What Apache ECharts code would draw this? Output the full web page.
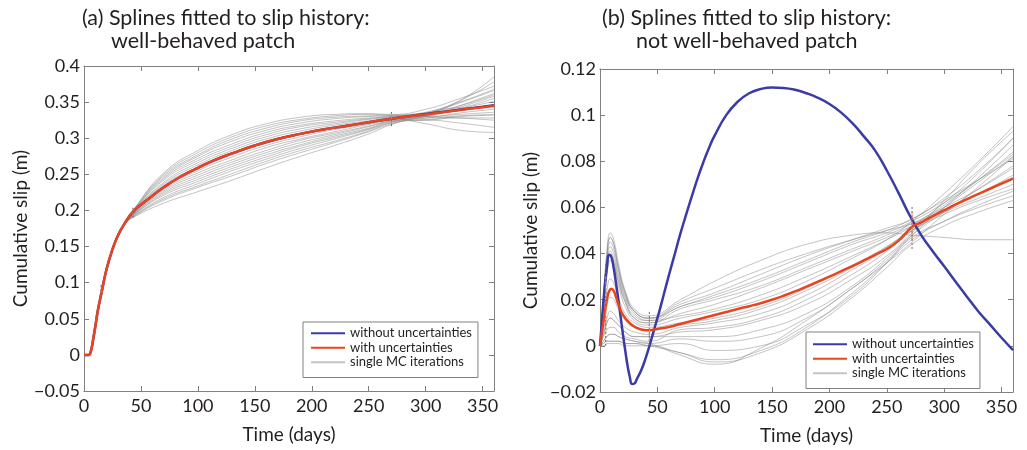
<!DOCTYPE html>
<html>
<head>
<meta charset="utf-8">
<script src="https://cdn.jsdelivr.net/npm/echarts@6/dist/echarts.min.js"></script>
<style>
  html, body { margin: 0; padding: 0; background: #fff; }
  #chart { width: 1027px; height: 450px; }
</style>
</head>
<body>
<div id="chart"></div>
<script>
// ---------------- shared axes ----------------
const xTicks = [0, 50, 100, 150, 200, 250, 300, 350];
const xLimit = 360;
const aYTicks = [-0.05, 0, 0.05, 0.1, 0.15, 0.2, 0.25, 0.3, 0.35, 0.4];
const bYTicks = [-0.02, 0, 0.02, 0.04, 0.06, 0.08, 0.1, 0.12];
const legendNames = ['without uncertainties', 'with uncertainties', 'single MC iterations'];

// ---------------- panel (a): well-behaved patch ----------------
const aFitDays    = [0, 4, 6, 8, 10, 12, 14, 16, 20, 25, 30, 35, 43, 55, 70, 85, 100, 115, 130, 150, 170, 190, 210, 230, 250, 270, 290, 310, 330, 350, 360];
const aWithUnc    = [0, 0, 0.005, 0.021, 0.04, 0.06, 0.076, 0.091, 0.12, 0.146, 0.166, 0.18, 0.198, 0.214, 0.232, 0.247, 0.259, 0.27, 0.279, 0.29, 0.299, 0.306, 0.312, 0.317, 0.322, 0.327, 0.331, 0.335, 0.339, 0.343, 0.345];
const aWithoutUnc = [0, 0, 0.005, 0.021, 0.04, 0.06, 0.076, 0.091, 0.12, 0.146, 0.166, 0.18, 0.198, 0.214, 0.232, 0.247, 0.259, 0.27, 0.279, 0.29, 0.299, 0.306, 0.312, 0.317, 0.322, 0.327, 0.3315, 0.3355, 0.3395, 0.3435, 0.3455];
// Monte-Carlo runs follow the fitted curve up to day 43, then fan out
const aMcDays = [43, 70, 100, 130, 160, 190, 220, 250, 270, 300, 330, 360];
const aMcRuns = [
  [0.200, 0.252, 0.283, 0.305, 0.320, 0.329, 0.333, 0.334, 0.333, 0.340, 0.355, 0.372],
  [0.200, 0.250, 0.280, 0.302, 0.317, 0.326, 0.331, 0.333, 0.332, 0.335, 0.340, 0.346],
  [0.199, 0.248, 0.277, 0.299, 0.314, 0.324, 0.329, 0.331, 0.332, 0.330, 0.328, 0.325],
  [0.199, 0.246, 0.275, 0.296, 0.311, 0.321, 0.327, 0.330, 0.331, 0.334, 0.345, 0.360],
  [0.198, 0.244, 0.272, 0.292, 0.308, 0.318, 0.324, 0.328, 0.330, 0.336, 0.350, 0.368],
  [0.198, 0.242, 0.269, 0.289, 0.305, 0.316, 0.322, 0.327, 0.330, 0.330, 0.333, 0.336],
  [0.197, 0.239, 0.266, 0.286, 0.302, 0.313, 0.320, 0.326, 0.329, 0.333, 0.341, 0.351],
  [0.197, 0.237, 0.263, 0.283, 0.299, 0.310, 0.318, 0.324, 0.328, 0.328, 0.331, 0.333],
  [0.196, 0.235, 0.260, 0.280, 0.296, 0.307, 0.316, 0.323, 0.327, 0.335, 0.352, 0.378],
  [0.196, 0.233, 0.257, 0.277, 0.293, 0.305, 0.314, 0.321, 0.327, 0.320, 0.311, 0.308],
  [0.195, 0.231, 0.255, 0.274, 0.290, 0.302, 0.312, 0.320, 0.326, 0.330, 0.341, 0.355],
  [0.195, 0.229, 0.252, 0.270, 0.287, 0.299, 0.309, 0.319, 0.325, 0.326, 0.330, 0.332],
  [0.194, 0.227, 0.249, 0.267, 0.283, 0.297, 0.307, 0.317, 0.325, 0.333, 0.352, 0.385],
  [0.194, 0.225, 0.246, 0.264, 0.280, 0.294, 0.305, 0.316, 0.324, 0.328, 0.335, 0.340],
  [0.193, 0.223, 0.243, 0.261, 0.277, 0.291, 0.303, 0.314, 0.323, 0.325, 0.328, 0.328],
  [0.193, 0.221, 0.240, 0.258, 0.274, 0.289, 0.301, 0.313, 0.323, 0.330, 0.345, 0.362],
  [0.192, 0.218, 0.237, 0.255, 0.271, 0.286, 0.299, 0.312, 0.322, 0.334, 0.342, 0.342],
  [0.191, 0.216, 0.234, 0.251, 0.268, 0.283, 0.296, 0.310, 0.321, 0.325, 0.321, 0.315],
  [0.191, 0.214, 0.232, 0.248, 0.265, 0.280, 0.294, 0.309, 0.320, 0.331, 0.343, 0.358],
  [0.190, 0.210, 0.226, 0.242, 0.259, 0.275, 0.290, 0.306, 0.319, 0.333, 0.349, 0.366]
];
// observations with their uncertainty ranges
const aObsDays = [15, 43, 270];
const aMcLo    = [0.083, 0.190, 0.317];
const aMcHi    = [0.097, 0.205, 0.338];
const aObsLo   = [0.086, 0.193, 0.320];
const aObsHi   = [0.094, 0.203, 0.335];

// ---------------- panel (b): not well-behaved patch ----------------
const bWithoutDays = [0, 2, 4, 6, 8, 10, 12, 14, 16, 18, 20, 22, 24, 26, 28, 30, 32, 36, 40, 44, 48, 52, 56, 60, 65, 70, 75, 80, 85, 90, 95, 100, 110, 120, 130, 140, 150, 160, 170, 180, 190, 200, 210, 220, 230, 240, 250, 260, 270, 280, 290, 300, 310, 320, 330, 340, 350, 360];
const bWithoutUnc  = [0, 0.013, 0.025, 0.034, 0.0395, 0.0385, 0.0335, 0.027, 0.02, 0.0125, 0.005, -0.002, -0.0085, -0.0135, -0.0165, -0.0163, -0.0145, -0.0105, -0.005, 0.0015, 0.0085, 0.0155, 0.023, 0.0305, 0.0395, 0.0485, 0.0568, 0.0648, 0.0725, 0.0795, 0.0858, 0.0912, 0.1, 0.1058, 0.1095, 0.1113, 0.112, 0.1118, 0.111, 0.1095, 0.1075, 0.1048, 0.1012, 0.0965, 0.0908, 0.0845, 0.076, 0.0665, 0.0565, 0.048, 0.041, 0.0345, 0.0278, 0.0212, 0.0148, 0.0092, 0.0035, -0.0018];
const bWithDays = [0, 2, 4, 6, 8, 10, 12, 14, 16, 18, 20, 24, 28, 32, 36, 40, 45, 50, 60, 70, 80, 90, 100, 110, 120, 130, 140, 150, 160, 170, 180, 190, 200, 210, 220, 230, 240, 250, 260, 272, 280, 290, 300, 310, 320, 330, 340, 350, 360];
const bWithUnc  = [0, 0.007, 0.014, 0.02, 0.0238, 0.0248, 0.0238, 0.021, 0.018, 0.0155, 0.0135, 0.0108, 0.009, 0.0078, 0.0071, 0.0068, 0.0069, 0.0073, 0.0082, 0.0095, 0.0108, 0.0121, 0.0134, 0.0147, 0.016, 0.0172, 0.0185, 0.02, 0.0217, 0.0236, 0.0257, 0.0278, 0.03, 0.0323, 0.0346, 0.037, 0.0395, 0.042, 0.0455, 0.0515, 0.0535, 0.0562, 0.0588, 0.0613, 0.0636, 0.0659, 0.0681, 0.0703, 0.0725];
const bMcDays = [0, 3, 6, 9, 12, 16, 22, 30, 43, 70, 100, 140, 180, 220, 250, 272, 300, 330, 360];
const bMcRuns = [
  [0, 0.021, 0.041, 0.049, 0.046, 0.036, 0.024, 0.016, 0.013,  0.020,  0.028,  0.037, 0.044, 0.048, 0.049, 0.048, 0.047, 0.046, 0.046],
  [0, 0.020, 0.039, 0.047, 0.044, 0.034, 0.023, 0.015, 0.012,  0.019,  0.025,  0.033, 0.040, 0.046, 0.050, 0.053, 0.059, 0.066, 0.074],
  [0, 0.019, 0.037, 0.045, 0.042, 0.033, 0.022, 0.015, 0.012,  0.018,  0.023,  0.031, 0.039, 0.046, 0.051, 0.055, 0.064, 0.076, 0.090],
  [0, 0.018, 0.035, 0.043, 0.040, 0.031, 0.021, 0.014, 0.011,  0.017,  0.021,  0.028, 0.036, 0.044, 0.049, 0.054, 0.062, 0.072, 0.083],
  [0, 0.017, 0.034, 0.041, 0.038, 0.030, 0.020, 0.013, 0.011,  0.013,  0.016,  0.022, 0.030, 0.039, 0.046, 0.052, 0.062, 0.075, 0.090],
  [0, 0.016, 0.032, 0.039, 0.036, 0.028, 0.019, 0.012, 0.010,  0.016,  0.020,  0.026, 0.034, 0.042, 0.048, 0.053, 0.060, 0.068, 0.077],
  [0, 0.015, 0.030, 0.037, 0.034, 0.026, 0.017, 0.011, 0.009,  0.012,  0.015,  0.020, 0.028, 0.038, 0.046, 0.054, 0.066, 0.080, 0.095],
  [0, 0.012, 0.024, 0.029, 0.027, 0.021, 0.014, 0.010, 0.008,  0.010,  0.012,  0.017, 0.025, 0.035, 0.043, 0.050, 0.058, 0.066, 0.073],
  [0, 0.009, 0.017, 0.021, 0.020, 0.016, 0.011, 0.008, 0.007,  0.009,  0.011,  0.016, 0.024, 0.034, 0.043, 0.051, 0.061, 0.072, 0.084],
  [0, 0.007, 0.012, 0.015, 0.014, 0.011, 0.008, 0.006, 0.005,  0.008,  0.010,  0.014, 0.022, 0.033, 0.042, 0.050, 0.057, 0.063, 0.068],
  [0, 0.005, 0.010, 0.012, 0.011, 0.009, 0.006, 0.004, 0.004,  0.004,  0.004,  0.007, 0.014, 0.026, 0.038, 0.048, 0.058, 0.068, 0.078],
  [0, 0.004, 0.007, 0.008, 0.008, 0.006, 0.004, 0.003, 0.002,  0.007,  0.008,  0.012, 0.020, 0.031, 0.041, 0.050, 0.060, 0.071, 0.082],
  [0, 0.002, 0.004, 0.005, 0.005, 0.004, 0.003, 0.002, 0.001,  0.003,  0.002,  0.004, 0.012, 0.025, 0.037, 0.047, 0.054, 0.060, 0.065],
  [0, 0.001, 0.002, 0.002, 0.002, 0.002, 0.001, 0.001, 0.000,  0.001, -0.002,  0.000, 0.009, 0.022, 0.036, 0.048, 0.060, 0.073, 0.087],
  [0, 0.000, 0.001, 0.001, 0.001, 0.001, 0.000, 0.000, 0.000, -0.003, -0.006, -0.002, 0.008, 0.023, 0.036, 0.046, 0.054, 0.061, 0.067],
  [0, 0.002, 0.004, 0.005, 0.005, 0.004, 0.003, 0.002, 0.001, -0.004, -0.008, -0.001, 0.011, 0.025, 0.036, 0.045, 0.057, 0.069, 0.082],
  [0, 0.001, 0.002, 0.002, 0.002, 0.002, 0.001, 0.001, 0.000, -0.003, -0.007, -0.003, 0.007, 0.021, 0.034, 0.044, 0.052, 0.058, 0.063],
  [0, 0.020, 0.039, 0.047, 0.044, 0.034, 0.023, 0.015, 0.012,  0.017,  0.022,  0.029, 0.037, 0.045, 0.050, 0.055, 0.063, 0.072, 0.081],
  [0, 0.016, 0.032, 0.039, 0.036, 0.028, 0.019, 0.012, 0.010,  0.014,  0.018,  0.025, 0.033, 0.041, 0.047, 0.052, 0.058, 0.064, 0.070],
  [0, 0.005, 0.010, 0.012, 0.011, 0.009, 0.006, 0.004, 0.004,  0.006,  0.007,  0.011, 0.018, 0.029, 0.039, 0.049, 0.063, 0.079, 0.093]
];
const bObsDays = [5, 43, 272];
const bMcLo    = [0.000, 0.000, 0.042];
const bMcHi    = [0.036, 0.015, 0.061];
const bObsLo   = [0.005, 0.002, 0.046];
const bObsHi   = [0.030, 0.012, 0.058];

// ---------------- styling ----------------
const FONT = 'Lato';
const TEXT = '#231f20';
const FRAME = '#808080';
const BLUE = '#3b3ba6';
const RED = '#e8441f';
const GREY = 'rgba(135,135,135,0.5)';

const pairs = (xs, ys) => xs.map((x, i) => [x, ys[i]]);
const fmtY = v => (Math.abs(v) < 1e-9 ? '0' : String(+v.toFixed(3)).replace('-', '\u2212'));

function axisPair(grid, ticks, isX, limitMax) {
  const min = ticks[0];
  const max = limitMax !== undefined ? limitMax : ticks[ticks.length - 1];
  const interval = +(ticks[1] - ticks[0]).toFixed(6);
  const common = {
    type: 'value', gridIndex: grid, min, max, interval,
    splitLine: { show: false },
    axisLine: { show: true, onZero: false, lineStyle: { color: FRAME, width: 1 } },
    axisTick: { show: true, inside: true, length: 5, lineStyle: { color: FRAME } }
  };
  const main = Object.assign({}, common, {
    position: isX ? 'bottom' : 'left',
    axisLabel: {
      show: true, fontFamily: FONT, fontSize: 18, color: TEXT, margin: isX ? 6 : 4,
      showMaxLabel: isX ? false : true,
      formatter: isX ? (v => String(v)) : fmtY
    }
  });
  const other = Object.assign({}, common, {
    position: isX ? 'top' : 'right',
    axisLabel: { show: false }
  });
  return [main, other];
}

const xa = axisPair(0, xTicks, true, xLimit);
const xb = axisPair(1, xTicks, true, xLimit);
const ya = axisPair(0, aYTicks, false);
const yb = axisPair(1, bYTicks, false);
[xa[0], xb[0]].forEach(ax => Object.assign(ax, {
  name: 'Time (days)', nameLocation: 'middle', nameGap: 34,
  nameTextStyle: { fontFamily: FONT, fontSize: 19, color: TEXT }
}));
Object.assign(ya[0], { name: 'Cumulative slip (m)', nameLocation: 'middle', nameGap: 54,
  nameTextStyle: { fontFamily: FONT, fontSize: 19, color: TEXT } });
Object.assign(yb[0], { name: 'Cumulative slip (m)', nameLocation: 'middle', nameGap: 60,
  nameTextStyle: { fontFamily: FONT, fontSize: 19, color: TEXT } });

function lineSeries(name, data, xi, yi, color, width, z) {
  return {
    type: 'line', name, data, xAxisIndex: xi, yAxisIndex: yi,
    showSymbol: false, symbol: 'none', smooth: 0.5, z,
    lineStyle: { color, width }, itemStyle: { color }, silent: true
  };
}

function errorBars(xi, yi, days, lo, hi, color, dash) {
  return {
    type: 'custom', xAxisIndex: xi, yAxisIndex: yi, silent: true, z: 6,
    data: days.map((d, i) => [d, lo[i], hi[i]]),
    renderItem(params, api) {
      const p0 = api.coord([api.value(0), api.value(1)]);
      const p1 = api.coord([api.value(0), api.value(2)]);
      return {
        type: 'line',
        shape: { x1: p0[0], y1: p0[1], x2: p1[0], y2: p1[1] },
        style: { stroke: color, lineWidth: 1, lineDash: dash }
      };
    }
  };
}

const series = [];
// panel (a)
const aEarly = pairs(aFitDays, aWithUnc).filter(p => p[0] < aMcDays[0]);
aMcRuns.forEach(run => series.push(lineSeries('single MC iterations', aEarly.concat(pairs(aMcDays, run)), 0, 0, GREY, 1, 2)));
series.push(lineSeries('without uncertainties', pairs(aFitDays, aWithoutUnc), 0, 0, BLUE, 2.5, 3));
series.push(lineSeries('with uncertainties', pairs(aFitDays, aWithUnc), 0, 0, RED, 2.5, 4));
series.push(errorBars(0, 0, aObsDays, aMcLo, aMcHi, '#666', [2, 2]));
series.push(errorBars(0, 0, aObsDays, aObsLo, aObsHi, '#ee7a4a', [3, 2]));
// panel (b)
bMcRuns.forEach(run => series.push(lineSeries('single MC iterations', pairs(bMcDays, run), 2, 2, GREY, 1, 2)));
series.push(lineSeries('without uncertainties', pairs(bWithoutDays, bWithoutUnc), 2, 2, BLUE, 2.5, 3));
series.push(lineSeries('with uncertainties', pairs(bWithDays, bWithUnc), 2, 2, RED, 2.5, 4));
series.push(errorBars(2, 2, bObsDays, bMcLo, bMcHi, '#666', [2, 2]));
series.push(errorBars(2, 2, bObsDays, bObsLo, bObsHi, '#ee7a4a', [3, 2]));

function legendBox(left, top, pad) {
  return {
    left, top, orient: 'vertical', data: legendNames, selectedMode: false,
    itemWidth: 34, itemHeight: 14.5, itemGap: 0, padding: pad,
    borderColor: FRAME, borderWidth: 1, backgroundColor: '#fff',
    itemStyle: { opacity: 0 },
    textStyle: { fontFamily: FONT, fontSize: 13, color: TEXT, lineHeight: 14.5 }
  };
}

const titleStyle = { font: '21.5px Lato', fill: TEXT };
const option = {
  animation: false,
  backgroundColor: '#fff',
  grid: [
    { left: 84, top: 66, width: 410, height: 325 },
    { left: 600, top: 69, width: 413, height: 324 }
  ],
  xAxis: [xa[0], xa[1], xb[0], xb[1]],
  yAxis: [ya[0], ya[1], yb[0], yb[1]],
  legend: [legendBox(303, 322, [4, 6, 8, 7]), legendBox(806, 332, [5, 6, 8, 6])],
  graphic: [
    { type: 'text', left: 82, top: 7, style: Object.assign({ text: '(a) Splines fitted to slip history:' }, titleStyle) },
    { type: 'text', left: 111, top: 30, style: Object.assign({ text: 'well-behaved patch' }, titleStyle) },
    { type: 'text', left: 602, top: 7, style: Object.assign({ text: '(b) Splines fitted to slip history:' }, titleStyle) },
    { type: 'text', left: 636, top: 30, style: Object.assign({ text: 'not well-behaved patch' }, titleStyle) }
  ],
  series
};

const chart = echarts.init(document.getElementById('chart'), null, { renderer: 'canvas' });
chart.setOption(option);
</script>
</body>
</html>
